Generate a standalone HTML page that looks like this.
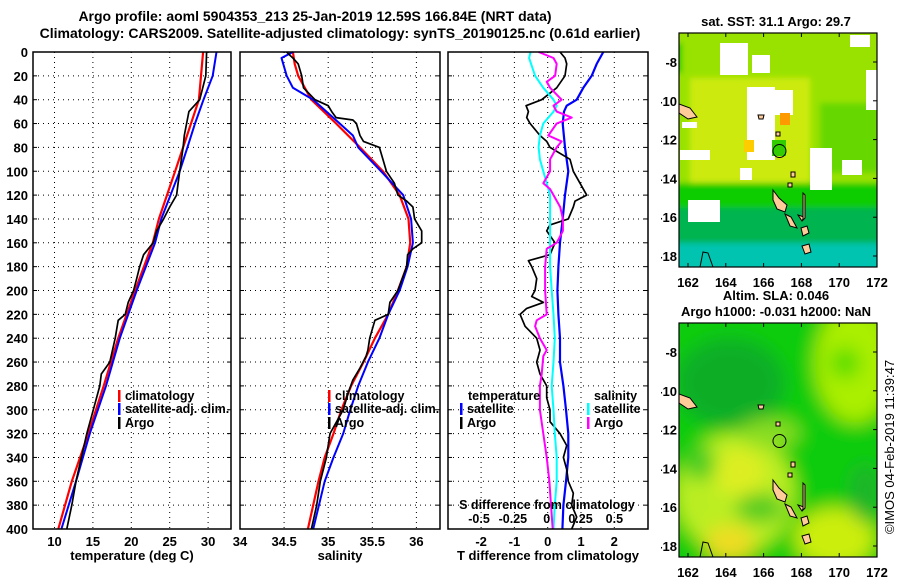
<!DOCTYPE html>
<html><head><meta charset="utf-8"><style>
html,body{margin:0;padding:0;background:#fff;}
svg{display:block;font-family:"Liberation Sans",Arial,sans-serif;font-weight:bold;}
</style></head><body>
<svg id="s" width="900" height="580" viewBox="0 0 900 580" xmlns="http://www.w3.org/2000/svg">
<defs>
<filter id="blur" x="-10%" y="-10%" width="120%" height="120%"><feGaussianBlur stdDeviation="9"/></filter>
<filter id="blur2" x="-10%" y="-10%" width="120%" height="120%"><feGaussianBlur stdDeviation="3"/></filter>
<clipPath id="mc1"><rect x="679" y="33" width="198" height="234"/></clipPath>
<clipPath id="mc2"><rect x="679" y="323" width="198" height="234"/></clipPath>
<clipPath id="lbl"><rect x="661" y="0" width="20" height="580"/></clipPath>
</defs>
<rect width="900" height="580" fill="#fff"/>
<text x="315" y="21" font-size="14" text-anchor="middle">Argo profile: aoml 5904353_213 25-Jan-2019 12.59S 166.84E (NRT data)</text>
<text x="340" y="38" font-size="14" text-anchor="middle">Climatology: CARS2009. Satellite-adjusted climatology: synTS_20190125.nc (0.61d earlier)</text>
<g id="maps"></g>
<g id="plots"></g>
</svg>
<script>
// ---- data ----
const tDepth = [0,40,80,100,140,160,200,240,280,320,360,400];
const tClim  = [29.35,28.8,26.75,25.7,23.6,22.8,20.5,18.3,16.4,14.4,12.25,10.5];
const tSatD  = [0,20,30,40,60,80,100,140,160,200,240,280,320,360,400];
const tSat   = [31.1,30.6,30.0,29.4,28.3,27.3,26.3,23.9,23.1,20.7,18.5,16.7,14.6,12.8,10.9];
const argoD  = [0,20,40,50,60,70,80,100,110,120,130,140,150,160,170,180,190,200,210,220,225,240,260,270,280,300,320,340,360,380,400];
const tArgo  = [29.8,29.7,28.9,27.5,27.2,26.9,26.75,26.3,26.1,25.9,25.0,24.2,23.3,22.85,21.6,21.1,20.7,20.3,19.6,19.2,18.3,17.9,17.2,16.1,15.9,15.05,14.2,13.5,12.8,12.25,11.6];

const sClimD = [0,10,20,40,60,80,100,120,140,160,180,200,220,240,260,280,300,320,340,360,400];
const sClim  = [34.6,34.62,34.66,34.81,35.09,35.36,35.62,35.81,35.91,35.93,35.89,35.79,35.68,35.53,35.4,35.26,35.15,35.06,34.96,34.89,34.77];
const sSatD  = [0,5,20,30,40,60,70,80,100,120,140,160,180,200,220,240,260,280,300,320,340,360,400];
const sSat   = [34.6,34.47,34.53,34.6,34.83,35.13,35.28,35.34,35.6,35.85,35.94,35.96,35.9,35.81,35.68,35.58,35.45,35.34,35.25,35.17,35.06,34.96,34.83];
const sArgoD = [0,3,5,10,20,30,40,45,50,55,57,60,70,75,80,90,100,110,120,125,130,140,150,160,165,170,180,200,210,220,225,240,250,255,265,275,285,300,320,340,360,380,400];
const sArgo  = [34.53,34.57,34.6,34.66,34.7,34.72,34.85,35.0,35.04,35.09,35.28,35.32,35.36,35.4,35.58,35.62,35.66,35.75,35.79,35.89,35.96,35.98,36.06,36.06,35.96,35.9,35.89,35.79,35.7,35.68,35.53,35.47,35.45,35.43,35.36,35.28,35.23,35.17,35.02,34.98,34.91,34.87,34.81];

const dTSatD = [0,10,20,30,40,45,50,60,80,100,120,140,160,180,200,220,240,260,280,300,320,340,360,380,400];
const dTSat  = [1.67,1.47,1.32,1.07,0.87,0.57,0.49,0.45,0.52,0.62,0.52,0.45,0.37,0.32,0.29,0.32,0.37,0.37,0.47,0.55,0.62,0.62,0.55,0.47,0.44];
const dTArgoD = [0,5,10,20,30,40,45,50,55,60,70,75,80,90,100,110,120,125,130,140,145,150,160,170,175,180,190,200,205,210,215,220,230,240,250,255,260,270,280,290,300,310,320,330,340,350,360,370,380,390,400];
const dTArgo  = [0.37,0.52,0.57,0.52,0.27,-0.18,-0.65,-0.58,-0.63,-0.53,-0.23,-0.03,0.07,0.67,0.77,0.97,1.17,0.82,0.77,0.62,0.07,-0.03,0.22,0.07,-0.58,-0.48,-0.33,-0.38,-0.48,-0.13,-0.63,-0.83,-0.68,-0.33,-0.23,-0.28,-0.33,-0.23,-0.03,-0.03,0.07,0.07,0.37,0.57,0.47,0.57,0.62,0.77,0.72,0.87,0.72];
const dSSatD = [0,5,20,30,40,45,50,60,70,80,90,100,110,120,140,160,180,200,220,240,260,280,300,320,340,360,380,400];
const dSSat  = [-0.12,-0.13,-0.086,-0.025,0.05,0.074,0.05,-0.025,-0.05,-0.06,-0.05,-0.025,0,0.025,0.025,0.025,0.025,0.037,0.05,0.06,0.05,0.037,0.05,0.06,0.074,0.074,0.06,0.05];
const dSArgoD = [0,5,10,20,25,30,40,45,50,55,60,70,75,80,90,100,110,115,120,130,140,150,160,165,180,200,220,225,230,240,250,255,270,280,300,320,340,360,380,400];
const dSArgo  = [-0.06,0.05,0.074,0.062,0,0.025,0.11,0.05,0.074,0.185,0.074,0.012,0.11,0.074,0.025,0.025,-0.025,0.025,0.05,0.1,0.12,0.12,0.074,0,-0.012,-0.012,0,-0.074,-0.086,-0.05,0,-0.025,-0.037,-0.05,-0.05,-0.025,0,0.02,0.032,0.044];

const depthTicks = [0,20,40,60,80,100,120,140,160,180,200,220,240,260,280,300,320,340,360,380,400];
const tTicks = [10,15,20,25,30];
const sTicks = [34,34.5,35,35.5,36];
const sTickLabels = ['34','34.5','35','35.5','36'];
const dTTicks = [-2,-1,0,1,2];
const dSTicks = [-0.5,-0.25,0,0.25,0.5];
const dSTickLabels = ['-0.5','-0.25','0','0.25','0.5'];
const lonTicks = [162,164,166,168,170,172];
const latTicks = [-8,-10,-12,-14,-16,-18];

// ---- helpers ----
const NS='http://www.w3.org/2000/svg';
function mk(tag, attrs, parent){const e=document.createElementNS(NS,tag);for(const k in attrs)e.setAttribute(k,attrs[k]);parent.appendChild(e);return e;}
const TOP=52, BOT=529;
const yD = d => TOP + d*(BOT-TOP)/400;
const plots=document.getElementById('plots');

function panel(name,x0,x1,xs,ticks,labels,xlabel){
  const g=mk('g',{},plots);
  
  
  depthTicks.forEach(d=>{ if(d>0&&d<400){const l=mk('line',{x1:x0,x2:x1,y1:yD(d),y2:yD(d),stroke:'#000','stroke-width':1,'stroke-dasharray':'1,4'},g);
    }
    mk('line',{x1:x0,x2:x0+4,y1:yD(d),y2:yD(d),stroke:'#000'},g);
    mk('line',{x1:x1-4,x2:x1,y1:yD(d),y2:yD(d),stroke:'#000'},g);});
  ticks.forEach((t,i)=>{const x=xs(t);
    if(x>x0+2&&x<x1-2){const l=mk('line',{x1:x,x2:x,y1:TOP,y2:BOT,stroke:'#000','stroke-dasharray':'1,4'},g);
      }
    const tx=mk('text',{x:x,y:BOT+17,'font-size':13,'text-anchor':'middle'},g);tx.textContent=labels[i];
    });
  const xl=mk('text',{x:(x0+x1)/2,y:BOT+31,'font-size':13,'text-anchor':'middle'},g);xl.textContent=xlabel;
  
  return g;
}
function line(g,xs,vals,deps,color,w,name){
  const pts=vals.map((v,i)=>xs(v).toFixed(1)+','+yD(deps[i]).toFixed(1)).join(' ');
  const p=mk('polyline',{points:pts,fill:'none',stroke:color,'stroke-width':w,'stroke-linejoin':'round'},g);
  
}
function frame(g,x0,x1){const r=mk('rect',{x:x0,y:TOP,width:x1-x0,height:BOT-TOP,fill:'none',stroke:'#000','stroke-width':1.5},g);
  }
function legendEntry(g,x,y,color,label){
  mk('rect',{x:x-1,y:y-10,width:2.5,height:12,fill:color},g);
  const t=mk('text',{x:x+6,y:y,'font-size':12.5},g);t.textContent=label;
  
}

depthTicks.forEach(d=>{const t=mk('text',{x:28,y:yD(d)+5,'font-size':13,'text-anchor':'end'},plots);t.textContent=d;
  });

const xT = v => 54.5 + (v-10)*7.68;
const g1=panel('temperature-panel',33,231,xT,tTicks,tTicks.map(String),'temperature (deg C)');
line(g1,xT,tClim,tDepth,'#f00',2.2,'temp-climatology-line');
line(g1,xT,tSat,tSatD,'#00f',2,'temp-satellite-line');
line(g1,xT,tArgo,argoD,'#000',1.7,'temp-argo-line');
frame(g1,33,231);
legendEntry(g1,119,400,'#f00','climatology');
legendEntry(g1,119,413,'#00f','satellite-adj. clim.');
legendEntry(g1,119,427,'#000','Argo');

const xS = v => 240 + (v-34)*88.2;
const g2=panel('salinity-panel',240,440,xS,sTicks,sTickLabels,'salinity');
line(g2,xS,sClim,sClimD,'#f00',2.2,'sal-climatology-line');
line(g2,xS,sSat,sSatD,'#00f',2,'sal-satellite-line');
line(g2,xS,sArgo,sArgoD,'#000',1.7,'sal-argo-line');
frame(g2,240,440);
legendEntry(g2,329,400,'#f00','climatology');
legendEntry(g2,329,413,'#00f','satellite-adj. clim.');
legendEntry(g2,329,427,'#000','Argo');

const xDT = v => 547.7 + v*33.3;
const xDS = v => 546.7 + v*135.3;
const g3=panel('difference-panel',448,648,xDT,dTTicks,dTTicks.map(String),'T difference from climatology');
line(g3,xDT,dTSat,dTSatD,'#00f',2.2,'dT-satellite-line');
line(g3,xDT,dTArgo,dTArgoD,'#000',1.7,'dT-argo-line');
line(g3,xDS,dSSat,dSSatD,'#0ff',2,'dS-satellite-line');
line(g3,xDS,dSArgo,dSArgoD,'#f0f',2,'dS-argo-line');
frame(g3,448,648);
(function(){const t=mk('text',{x:468,y:400,'font-size':12.5},g3);t.textContent='temperature';
  
  const s=mk('text',{x:594,y:400,'font-size':12.5},g3);s.textContent='salinity';
  })();
legendEntry(g3,461,413,'#00f','satellite');
legendEntry(g3,461,427,'#000','Argo');
legendEntry(g3,588,413,'#0ff','satellite');
legendEntry(g3,588,427,'#f0f','Argo');
(function(){const t=mk('text',{x:547,y:509,'font-size':12.5,'text-anchor':'middle'},g3);t.textContent='S difference from climatology';
  
  dSTicks.forEach((v,i)=>{const l=mk('text',{x:xDS(v),y:523,'font-size':12.5,'text-anchor':'middle'},g3);l.textContent=dSTickLabels[i];
    });})();

// ---- maps ----
const maps=document.getElementById('maps');
const MX0=679,MX1=877;
const lonX = v => 688 + (v-162)*18.9;
const latY = (v,top) => top + 29 + (-8 - v)*19.4;
function map(name,top,clip,bg,whiteIsl){
  const g=mk('g',{},maps);
  
  const h=234;
  const inner=mk('g',{'clip-path':'url(#'+clip+')'},g);
  bg(inner,top,h);
  const isl=[[[679,top+71],[690,top+75],[697,top+84],[688,top+86],[679,top+80]],
    [[773,top+157],[779,top+165],[787,top+172],[785,top+179],[777,top+176],[773,top+167]],
    [[785,top+181],[791,top+184],[797,top+195],[790,top+193]],
    [[798,top+182],[804,top+184],[802,top+188]],
    [[803,top+160],[805,top+162],[805,top+185],[803,top+187]],
    [[801,top+195],[807,top+193],[809,top+200],[803,top+203]],
    [[802,top+213],[809,top+211],[811,top+219],[805,top+221]],
    [[791,top+139],[795,top+139],[795,top+144],[791,top+144]],
    [[788,top+150],[792,top+150],[792,top+154],[788,top+154]],
    [[758,top+82],[764,top+82],[763,top+86],[759,top+86]],
    [[776,top+99],[780,top+99],[780,top+103],[776,top+103]]];
  isl.forEach(p=>{const e=mk('polygon',{points:p.map(q=>q.join(',')).join(' '),fill:'#fc9',stroke:'#000','stroke-width':1},inner);
    });
  mk('path',{d:`M700 ${top+h} L703 ${top+219} L708 ${top+220} L713 ${top+h}`,fill:'none',stroke:'#000'},inner);
  const c=mk('circle',{cx:lonX(166.84),cy:latY(-12.59,top),r:6.5,fill:'none',stroke:'#000','stroke-width':1},g);
  
  const f=mk('rect',{x:MX0,y:top,width:MX1-MX0,height:h,fill:'none',stroke:'#000','stroke-width':1.2},g);
  
  lonTicks.forEach(v=>{const x=lonX(v);mk('line',{x1:x,x2:x,y1:top,y2:top+4,stroke:'#000'},g);mk('line',{x1:x,x2:x,y1:top+h-4,y2:top+h,stroke:'#000'},g);
    const t=mk('text',{x:x,y:top+h+20,'font-size':13,'text-anchor':'middle'},g);t.textContent=v;
    });
  const lg=mk('g',{'clip-path':'url(#lbl)'},g);
  latTicks.forEach(v=>{const y=latY(v,top);mk('line',{x1:MX1-4,x2:MX1,y1:y,y2:y,stroke:'#000'},g);
    const t=mk('text',{x:677,y:y+5,'font-size':13,'text-anchor':'end'},lg);t.textContent=v;
    });
  return g;
}
map('sst-map',33,'mc1',(g,top,h)=>{
  const b=mk('g',{filter:'url(#blur2)'},g);
  mk('rect',{x:670,y:top-10,width:220,height:h+20,fill:'#99e200'},b);
  mk('rect',{x:690,y:top+45,width:120,height:110,fill:'#ccea10'},b);
  mk('rect',{x:820,y:top+70,width:60,height:70,fill:'#66d800'},b);
  mk('rect',{x:670,y:top+150,width:220,height:30,fill:'#11cc00'},b);
  mk('rect',{x:670,y:top+175,width:220,height:40,fill:'#00b450'},b);
  mk('rect',{x:670,y:top+210,width:220,height:40,fill:'#00c4b0'},b);
  mk('rect',{x:670,y:top+10,width:12,height:30,fill:'#00cc00'},b);
  [[720,43,28,32],[752,55,18,18],[747,87,28,73],[775,90,18,25],[850,35,20,12],[866,70,11,40],[810,148,22,42],[688,200,32,22],[682,122,15,6],[680,150,30,10],[740,168,12,12],[842,160,20,15]]
    .forEach(r=>{const e=mk('rect',{x:r[0],y:r[1],width:r[2],height:r[3],fill:'#fff'},g);});
  mk('rect',{x:780,y:113,width:10,height:12,fill:'#f90'},g);
  mk('rect',{x:744,y:140,width:10,height:12,fill:'#fc0'},g);
  mk('rect',{x:772,y:140,width:14,height:16,fill:'#33cc00'},g);
});
(function(){const t=mk('text',{x:776,y:26,'font-size':13,'text-anchor':'middle'},maps);t.textContent='sat. SST: 31.1 Argo: 29.7';
  })();
map('sla-map',323,'mc2',(g,top,h)=>{
  const b=mk('g',{filter:'url(#blur)'},g);
  mk('rect',{x:660,y:top-20,width:240,height:h+40,fill:'#11cc11'},b);
  mk('ellipse',{cx:730,cy:top+60,rx:55,ry:45,fill:'#119933',opacity:0.6},b);
  mk('ellipse',{cx:855,cy:top+40,rx:40,ry:60,fill:'#aaee00'},b);
  mk('ellipse',{cx:845,cy:top+40,rx:15,ry:15,fill:'#55dd00'},b);
  mk('ellipse',{cx:735,cy:top+170,rx:60,ry:60,fill:'#bbee22'},b);
  mk('ellipse',{cx:740,cy:top+150,rx:25,ry:25,fill:'#ddee22'},b);
  mk('ellipse',{cx:730,cy:top+220,rx:25,ry:18,fill:'#eedd22'},b);
  mk('ellipse',{cx:700,cy:top+140,rx:15,ry:18,fill:'#44cc22'},b);
  mk('ellipse',{cx:760,cy:top+185,rx:25,ry:15,fill:'#55cc22'},b);
  mk('ellipse',{cx:835,cy:top+215,rx:40,ry:30,fill:'#ccee11'},b);
  mk('ellipse',{cx:865,cy:top+170,rx:15,ry:30,fill:'#22aa33',opacity:0.7},b);
  mk('ellipse',{cx:770,cy:top+110,rx:30,ry:15,fill:'#88dd22'},b);
});
(function(){const a=mk('text',{x:776,y:300,'font-size':13,'text-anchor':'middle'},maps);a.textContent='Altim. SLA: 0.046';
  
  const b=mk('text',{x:776,y:316,'font-size':13,'text-anchor':'middle'},maps);b.textContent='Argo h1000: -0.031 h2000: NaN';
  
  const c=mk('text',{x:0,y:0,'font-size':13,'font-weight':'normal','text-anchor':'middle',transform:'translate(894,447) rotate(-90)'},maps);c.textContent='©IMOS 04-Feb-2019 11:39:47';
  })();
</script>
</body></html>
